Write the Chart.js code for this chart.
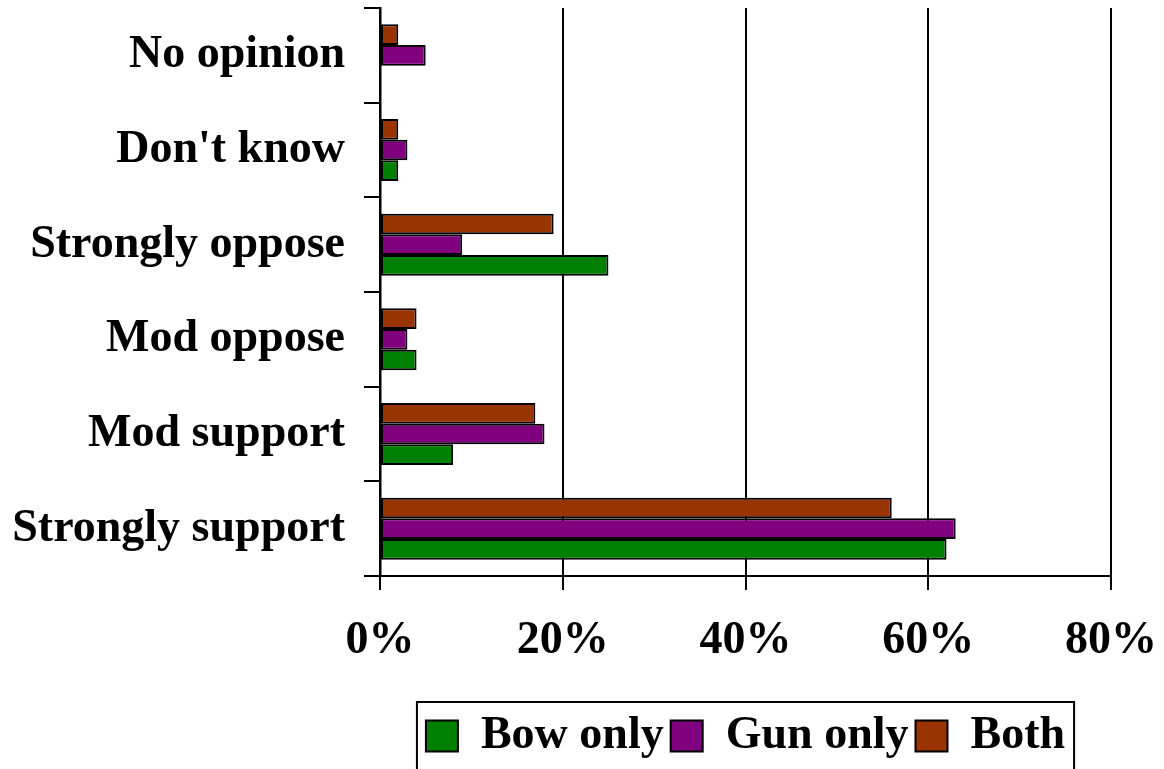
<!DOCTYPE html>
<html>
<head>
<meta charset="utf-8">
<script src="https://cdn.jsdelivr.net/npm/chart.js@4/dist/chart.umd.min.js"></script>
<style>
  html, body { margin: 0; padding: 0; background: #ffffff; overflow: hidden; }
  #wrap { width: 1164px; height: 769px; }
</style>
</head>
<body>
<div id="wrap"><canvas id="chart" width="1164" height="769"></canvas></div>
<script>
// Survey responses by hunter type (percent of respondents)
const categories = ['No opinion', "Don't know", 'Strongly oppose', 'Mod oppose', 'Mod support', 'Strongly support'];
const bowOnly = [0, 2, 25, 4, 8, 62];
const gunOnly = [5, 3, 9, 3, 18, 63];
const both    = [2, 2, 19, 4, 17, 56];
const xTicks  = [0, 20, 40, 60, 80];

const FONT = "'Liberation Serif', 'Times New Roman', serif";

// Frame drawn around the legend items (open at the bottom edge of the page)
const legendFrame = {
  id: 'legendFrame',
  afterDraw(chart) {
    const lg = chart.legend;
    if (!lg || !lg.legendHitBoxes || !lg.legendHitBoxes.length) return;
    const boxes = lg.legendHitBoxes;
    let minX = Infinity, maxX = -Infinity;
    boxes.forEach(b => { minX = Math.min(minX, b.left); maxX = Math.max(maxX, b.left + b.width); });
    const ctx = chart.ctx;
    ctx.save();
    ctx.strokeStyle = '#000';
    ctx.lineWidth = 2;
    const left = minX - 9, right = maxX + 9, top = lg.top - 4;
    ctx.strokeRect(left, top, right - left, chart.height + 20 - top);
    ctx.restore();
  }
};

const barStyle = { borderColor: '#000000', borderWidth: 2, borderSkipped: false,
                   categoryPercentage: 0.655, barPercentage: 1.0 };

new Chart(document.getElementById('chart'), {
  type: 'bar',
  data: {
    labels: categories,
    datasets: [
      Object.assign({ label: 'Both', data: both, backgroundColor: '#993300' }, barStyle),
      Object.assign({ label: 'Gun only', data: gunOnly, backgroundColor: '#800080' }, barStyle),
      Object.assign({ label: 'Bow only', data: bowOnly, backgroundColor: '#008000' }, barStyle)
    ]
  },
  options: {
    indexAxis: 'y',
    responsive: false,
    animation: false,
    devicePixelRatio: 1,
    layout: { padding: { top: 8, right: 53, bottom: 0, left: 0 } },
    scales: {
      x: {
        type: 'linear',
        min: 0,
        max: 80,
        afterBuildTicks(scale) { scale.ticks = xTicks.map(v => ({ value: v })); },
        ticks: {
          color: '#000',
          padding: 24,
          font: { family: FONT, size: 46, weight: 'bold' },
          callback: v => v + '%',
          maxRotation: 0
        },
        grid: { color: '#000', lineWidth: 2, tickLength: 14, drawOnChartArea: true },
        border: { display: true, color: '#000', width: 2 },
        afterFit(scale) {
          scale.height = 130;
          scale.paddingLeft = 0; scale.paddingRight = 0;
        }
      },
      y: {
        type: 'category',
        ticks: {
          color: '#000',
          padding: 19,
          font: { family: FONT, size: 46, weight: 'bold' }
        },
        grid: { display: true, drawOnChartArea: false, color: '#000', lineWidth: 2, tickLength: 16, offset: true },
        border: { display: true, color: '#000', width: 2.5 },
        afterFit(scale) {
          scale.width = 380;
          scale.paddingTop = 0; scale.paddingBottom = 0;
        }
      }
    },
    plugins: {
      tooltip: { enabled: false },
      legend: {
        display: true,
        position: 'bottom',
        fullSize: false,
        reverse: true,
        labels: {
          color: '#000',
          boxWidth: 32,
          boxHeight: 31,
          padding: 7,
          font: { family: FONT, size: 46, weight: 'bold' }
        }
      }
    }
  },
  plugins: [legendFrame]
});
</script>
</body>
</html>
